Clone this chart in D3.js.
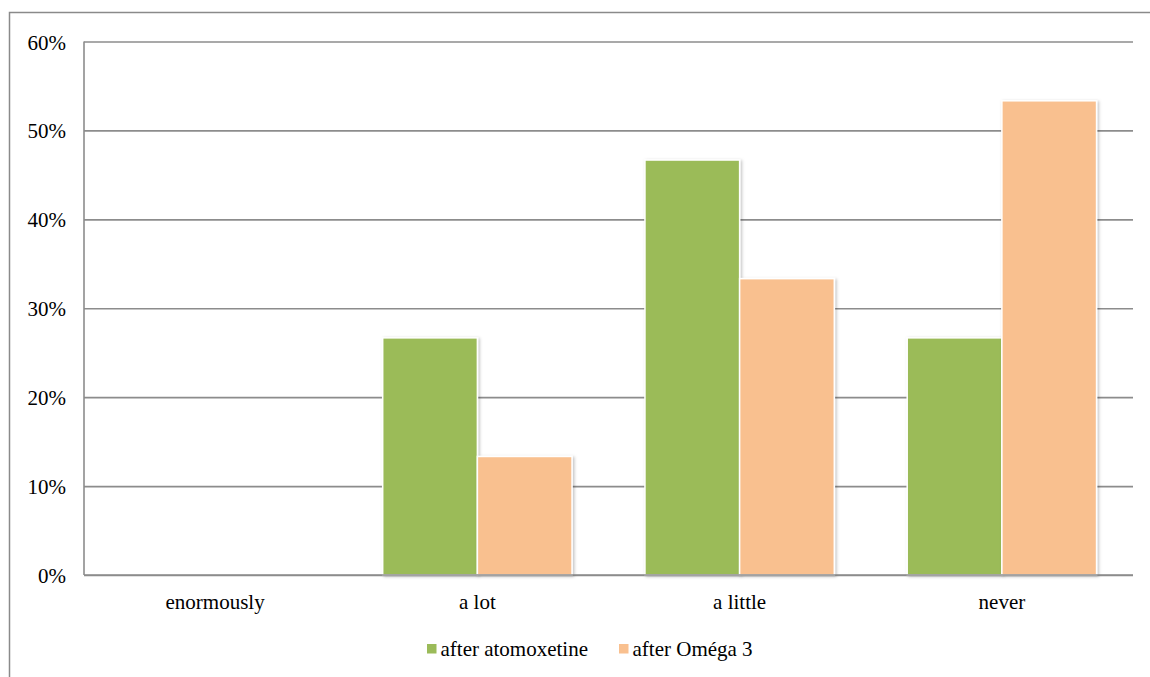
<!DOCTYPE html>
<html>
<head>
<meta charset="utf-8">
<script src="https://cdn.jsdelivr.net/npm/d3@7"></script>
<style>
  html, body { margin: 0; padding: 0; background: #fff; }
  svg { display: block; }
  svg text { font-family: "Liberation Serif", "Times New Roman", Times, "DejaVu Serif", serif; fill: #000; }
</style>
</head>
<body>
<svg id="chart" width="1150" height="677"></svg>
<script>
// Response categories and the share of respondents for each treatment
const categories = ["enormously", "a lot", "a little", "never"];
const seriesNames = ["after atomoxetine", "after Oméga 3"];
const atomoxetine = [0, 0.2667, 0.4667, 0.2667];
const omega3 = [0, 0.1333, 0.3333, 0.5333];
const yTicks = [0, 0.1, 0.2, 0.3, 0.4, 0.5, 0.6];
const colors = ["#9BBB59", "#F9C08F"];

const svg = d3.select("#chart");
const margin = { left: 84, right: 17, top: 41.5, bottom: 102 };
const W = 1150, H = 677;
const innerW = W - margin.left - margin.right;
const innerH = H - margin.top - margin.bottom;
const fontSize = 21;

// Soft shadow behind bars
const defs = svg.append("defs");
const f = defs.append("filter").attr("id", "shadow")
  .attr("x", "-10%").attr("y", "-10%").attr("width", "130%").attr("height", "130%");
f.append("feDropShadow").attr("dx", 1.5).attr("dy", 1).attr("stdDeviation", 1.5)
  .attr("flood-color", "#000").attr("flood-opacity", 0.25);

// Outer chart frame
svg.append("rect")
  .attr("x", 9.5).attr("y", 12.5).attr("width", 1200).attr("height", 700)
  .attr("fill", "none").attr("stroke", "#8a8a8a").attr("stroke-width", 1.5);

const g = svg.append("g").attr("transform", `translate(${margin.left},${margin.top})`);

const x0 = d3.scaleBand().domain(categories).range([0, innerW]).paddingInner(0.278).paddingOuter(0.139);
const x1 = d3.scaleBand().domain(seriesNames).range([0, x0.bandwidth()]).padding(0);
const y = d3.scaleLinear().domain([0, 0.6]).range([innerH, 0]);

// Horizontal gridlines with percentage labels
const yAxis = d3.axisLeft(y).tickValues(yTicks).tickSize(-innerW).tickFormat(d3.format(".0%"));
const ya = g.append("g").call(yAxis).attr("font-family", null).attr("font-size", null);
ya.select(".domain").remove();
ya.selectAll(".tick line").attr("stroke", "#8c8c8c").attr("stroke-width", 1.6);
ya.selectAll(".tick text").attr("x", -18).attr("dy", "0.36em")
  .style("font-size", fontSize + "px").attr("fill", "#000");

// Vertical axis line
g.append("line").attr("x1", 0).attr("x2", 0).attr("y1", 0).attr("y2", innerH)
  .attr("stroke", "#8c8c8c").attr("stroke-width", 1.6);

// Bars
const data = categories.map((c, i) => ({ cat: c, vals: [atomoxetine[i], omega3[i]] }));
const groups = g.selectAll(".grp").data(data).join("g")
  .attr("transform", d => `translate(${x0(d.cat)},0)`);
groups.selectAll("rect").data(d => d.vals.map((v, k) => ({ name: seriesNames[k], v, k })))
  .join("rect")
  .filter(d => d.v > 0)
  .attr("x", d => x1(d.name))
  .attr("y", d => y(d.v))
  .attr("width", x1.bandwidth())
  .attr("height", d => innerH - y(d.v))
  .attr("fill", d => colors[d.k])
  .attr("stroke", "#fff").attr("stroke-width", 1.5)
  .attr("filter", "url(#shadow)");

// Baseline drawn over bars
g.append("line").attr("x1", 0).attr("x2", innerW).attr("y1", innerH).attr("y2", innerH)
  .attr("stroke", "#8c8c8c").attr("stroke-width", 1.6);

// Category labels
const xAxis = d3.axisBottom(x0).tickSize(0);
const xa = g.append("g").attr("transform", `translate(0,${innerH})`).call(xAxis)
  .attr("font-family", null).attr("font-size", null);
xa.select(".domain").remove();
xa.selectAll(".tick text").attr("dy", 0).attr("y", 34)
  .style("font-size", fontSize + "px").attr("fill", "#000");

// Legend
const legend = svg.append("g").attr("transform", "translate(427,656)");
const legX = [0, 192];
seriesNames.forEach((n, i) => {
  const lg = legend.append("g").attr("transform", `translate(${legX[i]},0)`);
  lg.append("rect").attr("x", 0).attr("y", -12).attr("width", 9.5).attr("height", 9.5).attr("fill", colors[i]);
  lg.append("text").attr("x", 13.5).attr("y", 0).style("font-size", fontSize + "px").text(n);
});
</script>
</body>
</html>
